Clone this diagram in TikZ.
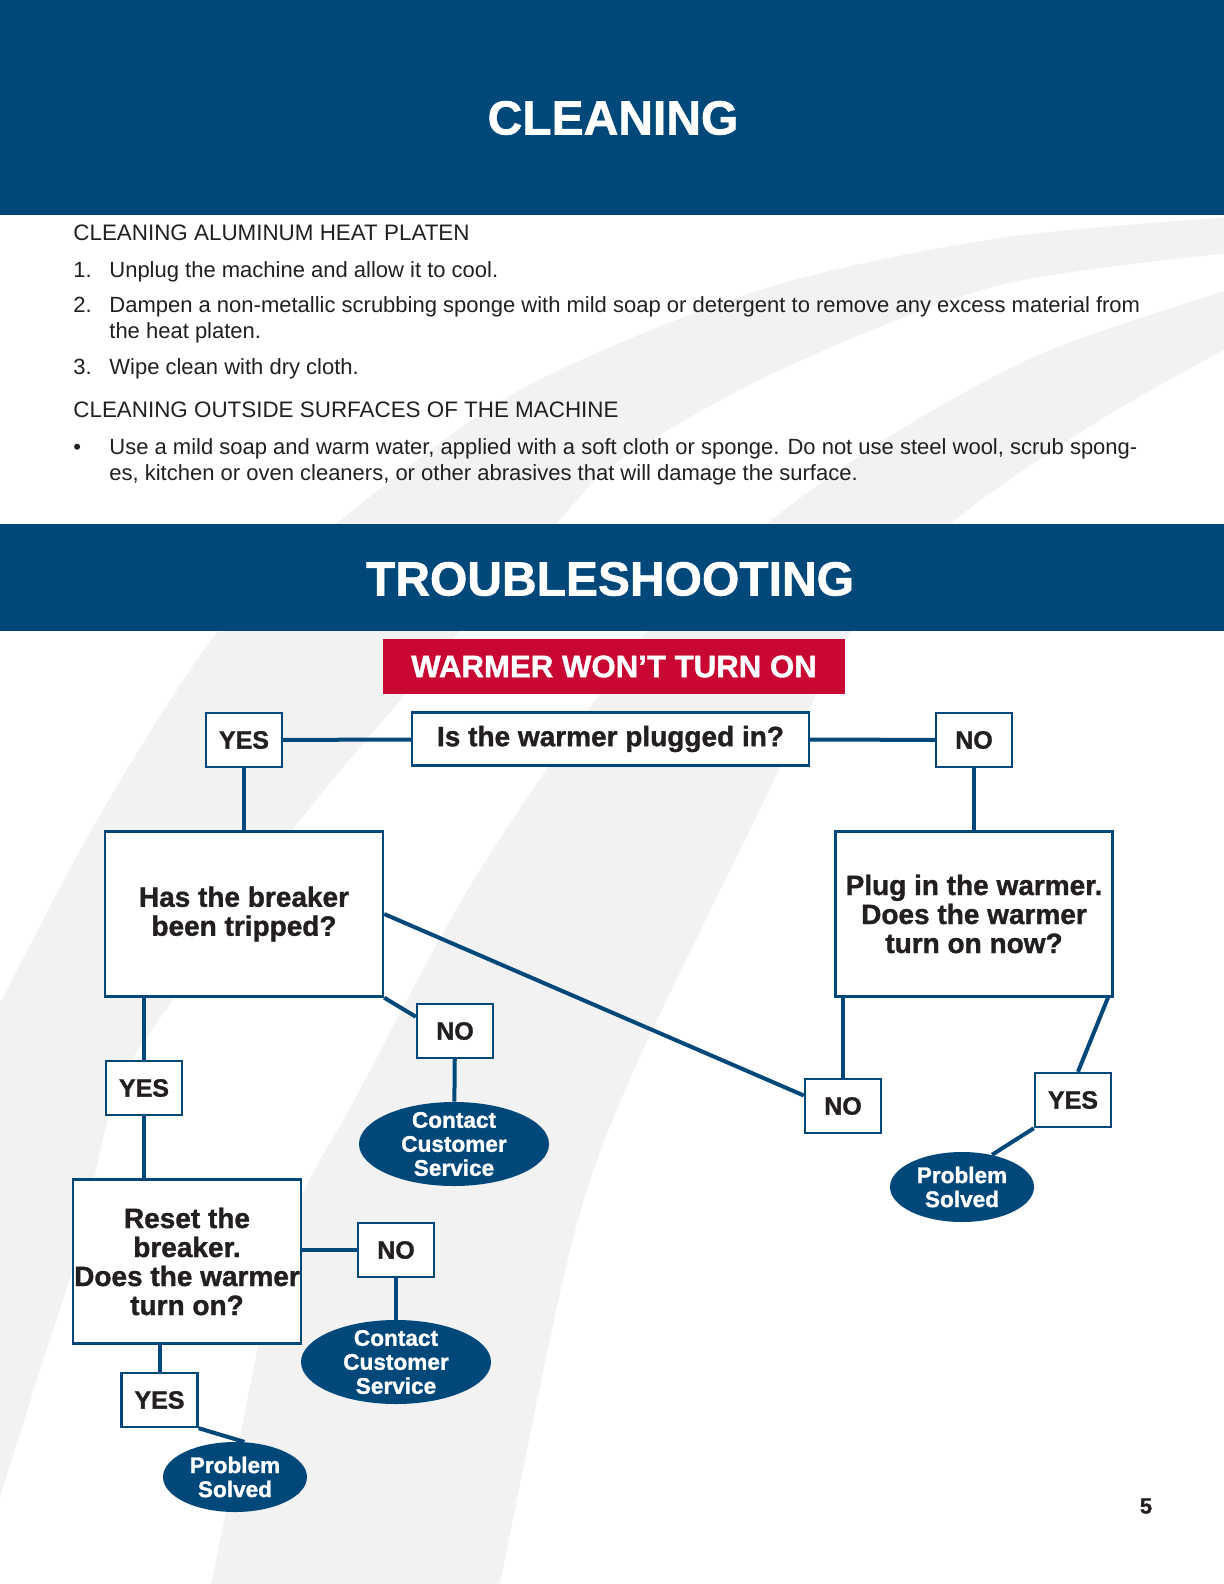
\documentclass[tikz,border=0pt]{standalone}
\usepackage{fontspec}
\setmainfont{Liberation Sans}
\newfontfamily\heavyfont[FakeBold=1.2]{Liberation Sans}
\usetikzlibrary{shapes.geometric}
\definecolor{navy}{RGB}{0,71,122}
\definecolor{alertred}{RGB}{200,8,50}
\definecolor{swoosh}{RGB}{242,242,243}
\definecolor{ink}{RGB}{35,31,32}
\begin{document}
\begin{tikzpicture}[x=0.5pt,y=-0.5pt,
  link/.style={navy,line width=2pt},
  answer/.style={draw=navy,line width=1.2pt,fill=white,minimum width=38pt,minimum height=27pt,inner sep=0pt,text=ink,font=\heavyfont\bfseries\fontsize{12.5}{14}\selectfont},
  question/.style={draw=navy,line width=1.2pt,fill=white,inner sep=0pt,align=center,text=ink,font=\heavyfont\bfseries\fontsize{14}{14.5}\selectfont},
  bubble/.style={ellipse,fill=navy,inner sep=0pt},
  bubtext/.style={text=white,align=center,font=\heavyfont\bfseries\fontsize{11.3}{12}\selectfont},
  body/.style={anchor=base west,inner sep=0pt,text=ink,font=\fontsize{11}{13}\selectfont},
  subhead/.style={body,font=\fontsize{11.2}{13}\selectfont},
  header/.style={text=white,font=\heavyfont\bfseries\fontsize{24}{24}\selectfont}]
\useasboundingbox (0,0) rectangle (1224,1584);
\fill[white] (0,0) rectangle (1224,1584);
\begin{scope}
\clip (0,0) rectangle (1224,1584);
\fill[swoosh] plot[smooth] coordinates {(-40,1080) (0,1003) (100,815) (219,630) (336,524) (520,390) (760,290) (1000,238) (1260,215)}
  -- plot[smooth] coordinates {(1260,250) (1000,285) (780,370) (620,460) (556,524) (461,630) (300,820) (180,990) (117,1090) (78,1250) (40,1370) (0,1497) (-30,1600)} -- cycle;
\fill[swoosh] plot[smooth] coordinates {(190,1650) (211,1584) (281,1250) (360,1090) (480,870) (648,630) (766,524) (900,430) (1050,350) (1260,280)}
  -- plot[smooth] coordinates {(1260,330) (1100,420) (950,524) (852,630) (740,850) (625,1090) (570,1250) (500,1584) (490,1650)} -- cycle;
\end{scope}
\fill[navy] (0,0) rectangle (1224,215);
\node[header] (cleanhead) at (613,118) {CLEANING};
\node[subhead] (platenhead) at (73,240.5) {CLEANING ALUMINUM HEAT PLATEN};
\node[body] (num1) at (73,277) {1.};
\node[body] (step1) at (109,277) {Unplug the machine and allow it to cool.};
\node[body] (num2) at (73,312) {2.};
\node[body] (step2a) at (109,312) {Dampen a non-metallic scrubbing sponge with mild soap or detergent to remove any excess material from};
\node[body] (step2b) at (109,338) {the heat platen.};
\node[body] (num3) at (73,374) {3.};
\node[body] (step3) at (109,374) {Wipe clean with dry cloth.};
\node[subhead] (outsidehead) at (73,417) {CLEANING OUTSIDE SURFACES OF THE MACHINE};
\node[body] (dot1) at (73,454) {•};
\node[body] (tipa) at (109,454) {Use a mild soap and warm water, applied with a soft cloth or sponge. Do not use steel wool, scrub spong-};
\node[body] (tipb) at (109,480) {es, kitchen or oven cleaners, or other abrasives that will damage the surface.};
\fill[navy] (0,524) rectangle (1224,631);
\node[header] (troublehead) at (610,579) {TROUBLESHOOTING};
\node[fill=alertred,minimum width=231pt,minimum height=27.5pt,text=white,font=\heavyfont\bfseries\fontsize{15.6}{15.6}\selectfont] (wontturn) at (614,666.5) {WARMER WON’T TURN ON};
\node[question,minimum width=198.5pt,minimum height=26.5pt] (plugged) at (610.5,739) {Is the warmer plugged in?};
\node[answer] (yes1) at (244,740) {YES};
\node[answer] (no1) at (974,740) {NO};
\node[question,minimum width=139pt,minimum height=82.5pt] (breaker) at (244,914) {Has the breaker\\been tripped?};
\node[question,minimum width=138.5pt,minimum height=82.5pt] (plug) at (974,914) {Plug in the warmer.\\Does the warmer\\turn on now?};
\node[answer] (no3) at (455,1031) {NO};
\node[bubble,minimum width=95pt,minimum height=42pt,label={[bubtext]center:{Contact\\Customer\\Service}}] (cs1) at (454,1144) {};
\node[answer] (yes3) at (144,1088) {YES};
\node[answer] (no2) at (843,1106) {NO};
\node[answer] (yes2) at (1073,1100) {YES};
\node[bubble,minimum width=72pt,minimum height=35pt,label={[bubtext]center:{Problem\\Solved}}] (ps1) at (962,1187) {};
\node[question,minimum width=114pt,minimum height=82pt] (reset) at (187,1261.5) {Reset the\\breaker.\\Does the warmer\\turn on?};
\node[answer] (no4) at (396,1250) {NO};
\node[bubble,minimum width=95pt,minimum height=42pt,label={[bubtext]center:{Contact\\Customer\\Service}}] (cs2) at (396,1362) {};
\node[answer] (yes4) at (159.5,1400) {YES};
\node[bubble,minimum width=72pt,minimum height=35pt,label={[bubtext]center:{Problem\\Solved}}] (ps2) at (235,1477) {};
\node[text=ink,font=\heavyfont\bfseries\fontsize{11}{11}\selectfont] (pagenum) at (1146,1506) {5};
\draw[link] (yes1) -- (plugged);
\draw[link] (plugged) -- (no1);
\draw[link] (yes1) -- (breaker);
\draw[link] (no1) -- (plug);
\draw[link] (breaker.east) -- (no2.165);
\draw[link] (breaker.south east) -- (no3.160);
\draw[link] (no3) -- (cs1);
\draw[link] (yes3.north) -- (yes3.north |- breaker.south);
\draw[link] (yes3.south) -- (yes3.south |- reset.north);
\draw[link] (no2.north) -- (no2.north |- plug.south);
\draw[link] (plug.-32) -- (yes2.80);
\draw[link] (yes2.south west) -- (ps1.47);
\draw[link] (no4.west) -- (no4.west -| reset.east);
\draw[link] (no4) -- (cs2);
\draw[link] (yes4.north) -- (yes4.north |- reset.south);
\draw[link] (yes4.south east) -- (ps2.75);
\end{tikzpicture}
\end{document}
